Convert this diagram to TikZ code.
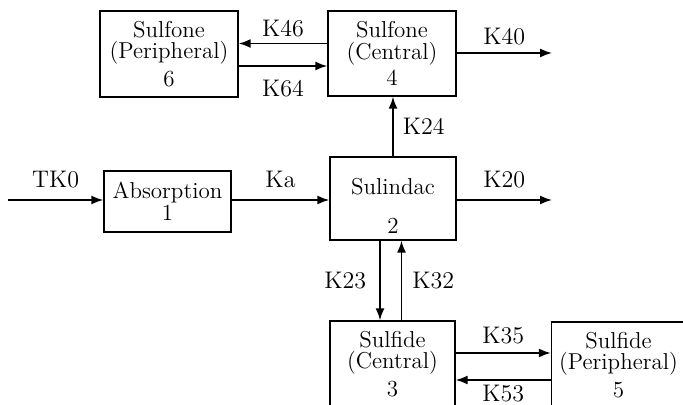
\documentclass[tikz,border=0pt]{standalone}
\usepackage{tikz}
\usetikzlibrary{arrows.meta, calc}

\tikzset{
    comp/.style={draw, line width=0.7pt, align=center, inner sep=1pt,
        font=\fontsize{11.5}{10.8}\selectfont},
    flow/.style={line width=0.8pt, -{Latex[length=6pt, width=4.5pt]}},
    rate/.style={font=\fontsize{12}{13}\selectfont, inner sep=2pt}
}

\begin{document}
\begin{tikzpicture}[x=0.5pt, y=-0.5pt]
            \useasboundingbox (0,0) rectangle (683,405);
            \clip (0,0) rectangle (683,405);
            % compartments
            \node[comp, minimum width=69pt, minimum height=43pt] (sfp) at (169,54)
                {Sulfone\\(Peripheral)\\[3pt]6};
            \node[comp, minimum width=64pt, minimum height=42.5pt] (sfc) at (392,53.5)
                {Sulfone\\(Central)\\[2pt]4};
            \node[comp, minimum width=63.5pt, minimum height=30.5pt] (abs) at (167.5,201.5)
                {Absorption\\1};
            \node[comp, minimum width=63pt, minimum height=41.5pt] (sul) at (393,198.5)
                {\rule{0pt}{15.5pt}Sulindac\\[9pt]2};
            \node[comp, minimum width=62.5pt, minimum height=43pt] (sdc) at (392.5,364)
                {Sulfide\\(Central)\\[3pt]3};
            \node[comp, minimum width=67pt, minimum height=43pt] (sdp) at (618.5,365)
                {Sulfide\\(Peripheral)\\[3pt]5};
            % free ends
            \coordinate (in0) at (8,200);
            \coordinate (out40) at (552,53);
            \coordinate (out20) at (552,200);
            % transfers
            \draw[flow] (in0) -- (in0 -| abs.west) node[rate, midway, above=3.5pt] {TK0};
            \draw[flow] (abs.east |- in0) -- (in0 -| sul.west) node[rate, midway, above=3.5pt] {Ka};
            \draw[flow] (sul.east |- out20) -- (out20) node[rate, midway, above=3.5pt] {K20};
            \draw[flow] (sfc.east |- out40) -- (out40) node[rate, midway, above=1.5pt] {K40};
            \draw[flow] (sul.north) -- (sul.north |- sfc.south) node[rate, midway, right=2.5pt] {K24};
            \draw[flow] ([yshift=5pt]sfc.west) -- ([yshift=5pt]sfc.west -| sfp.east)
                node[rate, midway, above=1pt] {K46};
            \draw[flow] ([yshift=-6pt]sfp.east) -- ([yshift=-6pt]sfp.east -| sfc.west)
                node[rate, midway, below=4.5pt] {K64};
            \draw[flow] ([xshift=-6.5pt]sul.south) -- ([xshift=-6.5pt]sul.south |- sdc.north)
                node[rate, midway, left=4.5pt] {K23};
            \draw[flow] ([xshift=4.5pt]sdc.north) -- ([xshift=4.5pt]sdc.north |- sul.south)
                node[rate, midway, right=3pt] {K32};
            \draw[flow] ([yshift=5.5pt]sdc.east) -- ([yshift=5.5pt]sdc.east -| sdp.west)
                node[rate, midway, above=2pt] {K35};
            \draw[flow] ([yshift=-7.5pt]sdp.west) -- ([yshift=-7.5pt]sdp.west -| sdc.east)
                node[rate, inner sep=0pt, midway, below=2pt] {K53};
        \end{tikzpicture}
\end{document}
